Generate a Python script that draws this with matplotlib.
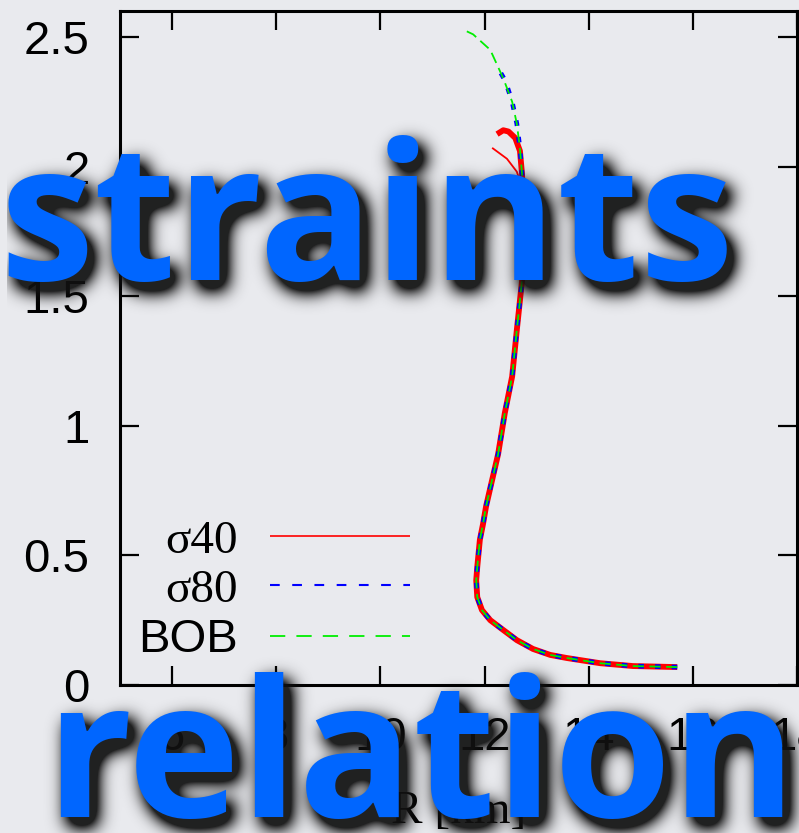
import numpy as np
import matplotlib.pyplot as plt

plt.rcParams['lines.scale_dashes'] = False

# shared low/intermediate mass part of the M-R curve (R in km, M in Msun)
r_main = [15.70, 14.85, 14.22, 13.58, 13.26, 12.93, 12.62, 12.36, 12.11, 11.95,
          11.86, 11.84, 11.86, 11.91, 11.97, 12.03, 12.11, 12.26, 12.39, 12.53,
          12.62, 12.72, 12.75, 12.73, 12.72]
m_main = [0.069, 0.073, 0.084, 0.104, 0.116, 0.139, 0.173, 0.212, 0.250, 0.289,
          0.339, 0.404, 0.455, 0.560, 0.620, 0.690, 0.760, 0.890, 1.050, 1.190,
          1.370, 1.560, 1.750, 1.920, 1.970]

# high mass ends of each model
r_s40_top = [12.68, 12.59, 12.46, 12.36, 12.24]
m_s40_top = [2.060, 2.110, 2.135, 2.140, 2.125]
r_s40_branch = [12.72, 12.62, 12.43, 12.16]
m_s40_branch = [1.920, 1.980, 2.030, 2.070]

r_s80_top = [12.68, 12.62, 12.53, 12.40, 12.30]
m_s80_top = [2.070, 2.165, 2.250, 2.330, 2.365]

r_bob_top = [12.68, 12.62, 12.53, 12.36, 12.11, 11.78, 11.57]
m_bob_top = [2.070, 2.165, 2.250, 2.340, 2.450, 2.510, 2.530]

labels = ['σ40', 'σ80', 'BOB']
xticks = [6, 8, 10, 12, 14, 16, 18]
yticks = [0, 0.5, 1, 1.5, 2, 2.5]
ytick_labels = ['0', '0.5', '1', '1.5', '2', '2.5']

# big slide words: text, left px, baseline px
words = [('straints', 0, 280), ('relation', 45, 817)]

W, H = 799, 833
bg = '#e9eaee'
fig = plt.figure(figsize=(W / 100, H / 100), dpi=100, facecolor=bg)
ax = fig.add_axes([0.1502, 0.1777, 0.8473, 0.8091])
ax.set_facecolor(bg)

ax.plot(r_s40_branch, m_s40_branch, color='#ff0000', lw=1.3)
ax.plot(r_main + r_s40_top, m_main + m_s40_top, color='#ff0000', lw=4.2,
        label=labels[0], solid_capstyle='butt')
ax.plot(r_main + r_s80_top, m_main + m_s80_top, color='#0000ff', lw=3.4,
        dashes=(4, 8), label=labels[1])
ax.plot(r_main + r_bob_top, m_main + m_bob_top, color='#00ee00', lw=1.3,
        dashes=(8, 4), label=labels[2])

ax.set_xlim(5, 18)
ax.set_ylim(0, 2.6)
ax.set_xticks(xticks)
ax.set_yticks(yticks)
ax.set_yticklabels(ytick_labels)
for s in ax.spines.values():
    s.set_linewidth(2.2)
ax.tick_params(direction='in', length=14, width=1.6, top=True, right=True,
               labelsize=34, pad=22)
for t in ax.get_xticklabels() + ax.get_yticklabels():
    t.set_fontfamily('Liberation Sans')
ax.set_xlabel('R [km]', fontsize=34, family='Liberation Serif', labelpad=22)

leg = ax.legend(loc='lower right', bbox_to_anchor=(0.428, 0.034),
                markerfirst=False, frameon=False, fontsize=34,
                handlelength=2.97, handletextpad=0.68, labelspacing=0.13,
                borderpad=0, borderaxespad=0)
for ln, w in zip(leg.get_lines(), [1.2, 1.5, 1.3]):
    ln.set_linewidth(w)
leg.get_lines()[1].set_dashes((7, 9))
leg.get_lines()[2].set_dashes((11, 8))
for t in leg.get_texts():
    t.set_fontfamily('Liberation Serif' if t.get_text().startswith('σ') else 'Liberation Sans')

text_kw = dict(ha='left', va='baseline', fontsize=137, fontweight='bold',
               family='Open Sans')

# soft drop shadow: render the words alone, blur the mask, lay it under them
sfig = plt.figure(figsize=(W / 100, H / 100), dpi=100)
sfig.patch.set_alpha(0)
for word, x, y in words:
    sfig.text(x / W, 1 - y / H, word, color='black', **text_kw)
sfig.canvas.draw()
mask = np.asarray(sfig.canvas.buffer_rgba())[..., 3].astype(float) / 255
plt.close(sfig)

sigma = 9.0
k = np.arange(-28, 29)
kern = np.exp(-0.5 * (k / sigma) ** 2)
kern /= kern.sum()
mask = np.apply_along_axis(lambda v: np.convolve(v, kern, mode='same'), 1, mask)
mask = np.apply_along_axis(lambda v: np.convolve(v, kern, mode='same'), 0, mask)
dx, dy = 7, 9
shifted = np.zeros_like(mask)
shifted[dy:, dx:] = mask[:-dy, :-dx]
shadow = np.zeros((H, W, 4))
shadow[..., :3] = 0.07
shadow[..., 3] = np.clip(shifted * 2.0, 0, 0.93)
fig.figimage(shadow, xo=0, yo=0, origin='upper', zorder=2)

for word, x, y in words:
    fig.text(x / W, 1 - y / H, word, color='#0066ff', zorder=3, **text_kw)

fig.savefig('out.png', dpi=100, facecolor=bg)
